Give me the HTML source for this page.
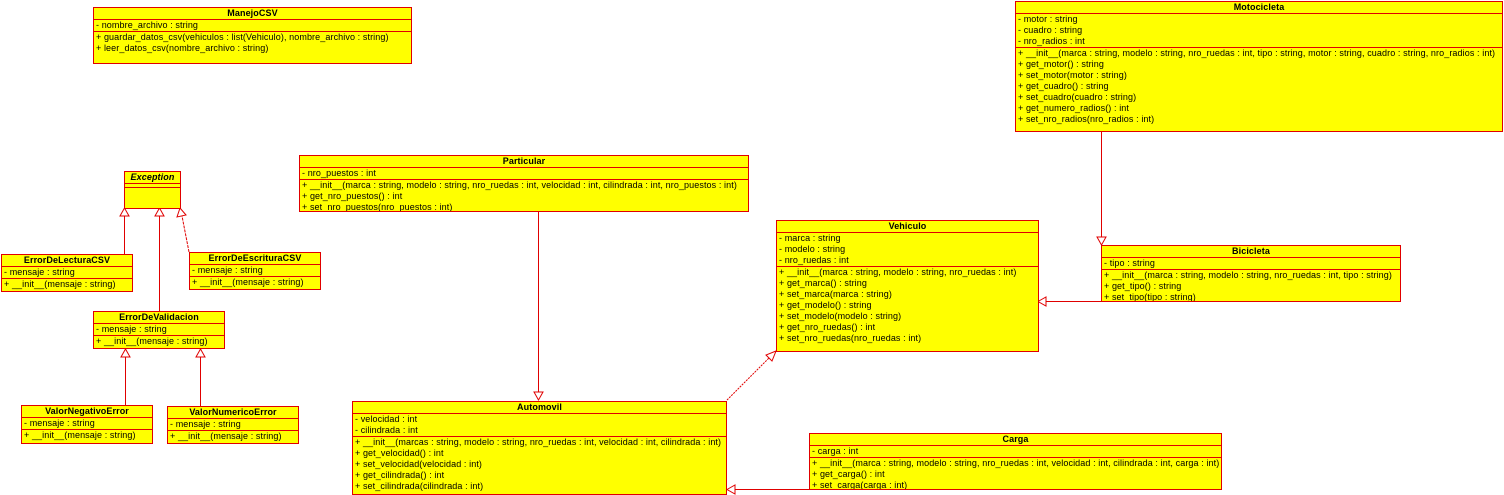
<!DOCTYPE html>
<html><head><meta charset="utf-8"><style>
body{margin:0;width:1504px;height:495px;background:#fff;position:relative;overflow:hidden;font-family:"Liberation Sans",sans-serif;font-size:9px;color:#000;letter-spacing:0.1px}
.c{position:absolute;background:#ffff00;border:1px solid #e00000;box-sizing:border-box;overflow:hidden}
.t{font-weight:bold;text-align:center;height:11px;line-height:11px;border-bottom:1px solid #e00000}
.t.i{font-style:italic}
.s{border-bottom:1px solid #e00000;padding:0 0 0 2px}
.s div,.m div{height:11px;line-height:11px;white-space:nowrap}
.m{padding-left:2px}
svg{position:absolute;left:0;top:0}
</style></head><body>
<svg width="1504" height="495">
<g stroke="#e00000" fill="#fff" stroke-width="1">
<line x1="124.5" y1="254" x2="124.5" y2="216"/><polygon points="124.5,208 120,216 129,216"/>
<line x1="159.5" y1="311" x2="159.5" y2="216"/><polygon points="159.5,208 155,216 164,216"/>
<line x1="189" y1="252" x2="182" y2="216" stroke-dasharray="3,1"/><polygon points="180,208 177,217 186,215"/>
<line x1="125.5" y1="405" x2="125.5" y2="357"/><polygon points="125.5,349 121,357 130,357"/>
<line x1="200.5" y1="406" x2="200.5" y2="357"/><polygon points="200.5,349 196,357 205,357"/>
<line x1="538.5" y1="211" x2="538.5" y2="392"/><polygon points="538.5,400 534,392 543,392"/>
<line x1="727" y1="400" x2="770" y2="357" stroke-dasharray="2,1"/><polygon points="776,351 766,355 772,361"/>
<line x1="1101.5" y1="131" x2="1101.5" y2="237"/><polygon points="1101.5,245 1097,237 1106,237"/>
<line x1="1101" y1="301.5" x2="1046" y2="301.5"/><polygon points="1038,301.5 1046,297 1046,306"/>
<line x1="809" y1="489.5" x2="735" y2="489.5"/><polygon points="727,489.5 735,485 735,494"/>
</g></svg>

<div class="c" style="left:93px;top:7px;width:319px;height:57px"><div class="t">ManejoCSV</div><div class="s"><div>- nombre_archivo : string</div></div><div class="m"><div>+ guardar_datos_csv(vehiculos : list(Vehiculo), nombre_archivo : string)</div><div>+ leer_datos_csv(nombre_archivo : string)</div></div></div>

<div class="c" style="left:1015px;top:1px;width:488px;height:131px"><div class="t">Motocicleta</div><div class="s"><div>- motor : string</div><div>- cuadro : string</div><div>- nro_radios : int</div></div><div class="m"><div>+ __init__(marca : string, modelo : string, nro_ruedas : int, tipo : string, motor : string, cuadro : string, nro_radios : int)</div><div>+ get_motor() : string</div><div>+ set_motor(motor : string)</div><div>+ get_cuadro() : string</div><div>+ set_cuadro(cuadro : string)</div><div>+ get_numero_radios() : int</div><div>+ set_nro_radios(nro_radios : int)</div></div></div>

<div class="c" style="left:124px;top:171px;width:57px;height:38px"><div class="t i">Exception</div><div class="s" style="height:3px"></div></div>

<div class="c" style="left:1px;top:254px;width:132px;height:38px"><div class="t">ErrorDeLecturaCSV</div><div class="s"><div>- mensaje : string</div></div><div class="m"><div>+ __init__(mensaje : string)</div></div></div>
<div class="c" style="left:189px;top:252px;width:132px;height:38px"><div class="t">ErrorDeEscrituraCSV</div><div class="s"><div>- mensaje : string</div></div><div class="m"><div>+ __init__(mensaje : string)</div></div></div>
<div class="c" style="left:93px;top:311px;width:132px;height:38px"><div class="t">ErrorDeValidacion</div><div class="s"><div>- mensaje : string</div></div><div class="m"><div>+ __init__(mensaje : string)</div></div></div>
<div class="c" style="left:21px;top:405px;width:132px;height:39px"><div class="t">ValorNegativoError</div><div class="s"><div>- mensaje : string</div></div><div class="m"><div>+ __init__(mensaje : string)</div></div></div>
<div class="c" style="left:167px;top:406px;width:132px;height:38px"><div class="t">ValorNumericoError</div><div class="s"><div>- mensaje : string</div></div><div class="m"><div>+ __init__(mensaje : string)</div></div></div>

<div class="c" style="left:299px;top:155px;width:450px;height:57px"><div class="t">Particular</div><div class="s"><div>- nro_puestos : int</div></div><div class="m"><div>+ __init__(marca : string, modelo : string, nro_ruedas : int, velocidad : int, cilindrada : int, nro_puestos : int)</div><div>+ get_nro_puestos() : int</div><div>+ set_nro_puestos(nro_puestos : int)</div></div></div>

<div class="c" style="left:776px;top:220px;width:263px;height:132px"><div class="t">Vehiculo</div><div class="s"><div>- marca : string</div><div>- modelo : string</div><div>- nro_ruedas : int</div></div><div class="m"><div>+ __init__(marca : string, modelo : string, nro_ruedas : int)</div><div>+ get_marca() : string</div><div>+ set_marca(marca : string)</div><div>+ get_modelo() : string</div><div>+ set_modelo(modelo : string)</div><div>+ get_nro_ruedas() : int</div><div>+ set_nro_ruedas(nro_ruedas : int)</div></div></div>

<div class="c" style="left:1101px;top:245px;width:300px;height:57px"><div class="t">Bicicleta</div><div class="s"><div>- tipo : string</div></div><div class="m"><div>+ __init__(marca : string, modelo : string, nro_ruedas : int, tipo : string)</div><div>+ get_tipo() : string</div><div>+ set_tipo(tipo : string)</div></div></div>

<div class="c" style="left:352px;top:401px;width:375px;height:94px"><div class="t">Automovil</div><div class="s"><div>- velocidad : int</div><div>- cilindrada : int</div></div><div class="m"><div>+ __init__(marcas : string, modelo : string, nro_ruedas : int, velocidad : int, cilindrada : int)</div><div>+ get_velocidad() : int</div><div>+ set_velocidad(velocidad : int)</div><div>+ get_cilindrada() : int</div><div>+ set_cilindrada(cilindrada : int)</div></div></div>

<div class="c" style="left:809px;top:433px;width:413px;height:57px"><div class="t">Carga</div><div class="s"><div>- carga : int</div></div><div class="m"><div>+ __init__(marca : string, modelo : string, nro_ruedas : int, velocidad : int, cilindrada : int, carga : int)</div><div>+ get_carga() : int</div><div>+ set_carga(carga : int)</div></div></div>
</body></html>
